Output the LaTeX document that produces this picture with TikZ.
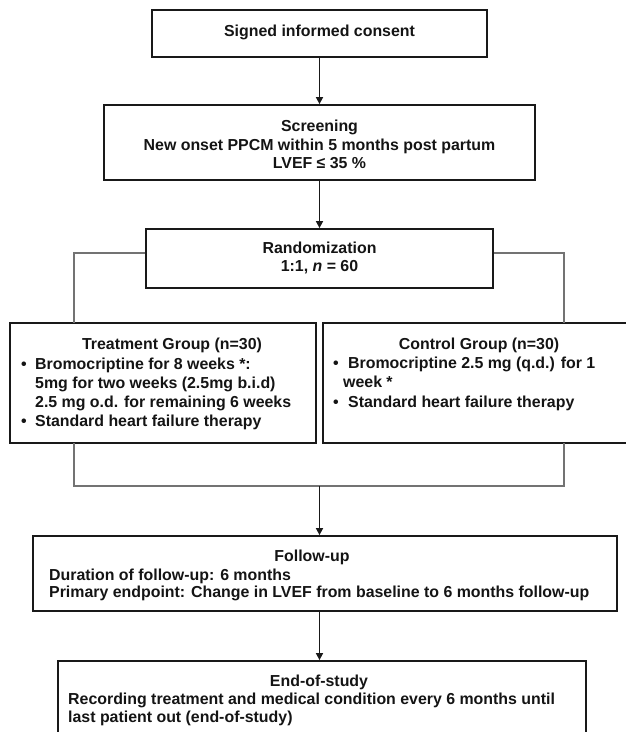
\documentclass[tikz,border=0pt]{standalone}
\usepackage{fontspec}
\setmainfont{Liberation Sans}
\usetikzlibrary{arrows.meta}
\begin{document}
\begin{tikzpicture}[x=1pt,y=-1pt,
  box/.style={draw=black!90, line width=1.8pt, rectangle, inner sep=0pt},
  txt/.style={font=\fontsize{15.9}{18.5}\selectfont\bfseries, text=black!92, inner sep=0pt},
  arr/.style={draw=black!90, line width=1.6pt, -{Triangle[length=7pt,width=7pt]}},
  conn/.style={draw=black!55, line width=1.1pt}]
\useasboundingbox (0,0) rectangle (625,732);
% boxes
\node[box, minimum width=335pt, minimum height=47pt] (consent) at (319.5,33.5) {};
\node[box, minimum width=431pt, minimum height=75pt] (screen) at (319.5,142.5) {};
\node[box, minimum width=347pt, minimum height=59pt] (rand) at (319.5,258.5) {};
\node[box, minimum width=306pt, minimum height=120pt] (treat) at (163,383) {};
\node[box, minimum width=312pt, minimum height=120pt] (ctrl) at (479,383) {};
\node[box, minimum width=584pt, minimum height=75pt] (follow) at (325,573.5) {};
\node[box, minimum width=528pt, minimum height=89pt] (end) at (322,705.5) {};
% texts
\node[txt, anchor=base] (t1) at (319.5,36) {Signed informed consent};
\node[txt, anchor=base] (t2a) at (319.5,131.7) {Screening};
\node[txt, anchor=base] (t2b) at (319.5,150) {New onset PPCM within 5 months post partum};
\node[txt, anchor=base] (t2c) at (319.5,168) {LVEF ≤ 35 \%};
\node[txt, anchor=base] (t3a) at (319.5,253.7) {Randomization};
\node[txt, anchor=base] (t3b) at (319.5,271.7) {1:1, \textit{n} = 60};
\node[txt, anchor=base] (tta) at (172,349.3) {Treatment Group (n=30)};
\node[txt, anchor=base west] (ttb1) at (21,369) {•};
\node[txt, anchor=base west] (ttb) at (35,369) {Bromocriptine for 8 weeks *:};
\node[txt, anchor=base west] (ttc) at (35,388) {5mg for two weeks (2.5mg b.i.d)};
\node[txt, anchor=base west] (ttd) at (35,407) {2.5 mg o.d. for remaining 6 weeks};
\node[txt, anchor=base west] (tte1) at (21,426) {•};
\node[txt, anchor=base west] (tte) at (35,426) {Standard heart failure therapy};
\node[txt, anchor=base] (tca) at (479,349.3) {Control Group (n=30)};
\node[txt, anchor=base west] (tcb1) at (333,368.5) {•};
\node[txt, anchor=base west] (tcb) at (348,368.5) {Bromocriptine 2.5 mg (q.d.) for 1};
\node[txt, anchor=base west] (tcc) at (343,387.5) {week *};
\node[txt, anchor=base west] (tcd1) at (333,407) {•};
\node[txt, anchor=base west] (tcd) at (348,407) {Standard heart failure therapy};
\node[txt, anchor=base] (tfa) at (312,561.7) {Follow-up};
\node[txt, anchor=base west] (tfb) at (49,580) {Duration of follow-up: 6 months};
\node[txt, anchor=base west] (tfc) at (49,597.7) {Primary endpoint: Change in LVEF from baseline to 6 months follow-up};
\node[txt, anchor=base] (tea) at (319,686) {End-of-study};
\node[txt, anchor=base west] (teb) at (68,704) {Recording treatment and medical condition every 6 months until};
\node[txt, anchor=base west] (tec) at (68,722) {last patient out (end-of-study)};
% connector points
\coordinate (tl) at (74,323);
\coordinate (tr) at (564,323);
\coordinate (bl) at (74,443);
\coordinate (br) at (564,443);
\coordinate (merge) at (319.5,486);
% connectors
\draw[arr] (consent.south) -- (screen.north);
\draw[arr] (screen.south) -- (rand.north);
\draw[conn] ([yshift=5.5pt]rand.west) -| (tl);
\draw[conn] ([yshift=5.5pt]rand.east) -| (tr);
\draw[conn] (bl) |- (br |- merge) -- (br);
\draw[arr] (merge) -- (merge |- follow.north);
\draw[arr] (follow.south -| merge) -- (merge |- end.north);
\end{tikzpicture}
\end{document}
